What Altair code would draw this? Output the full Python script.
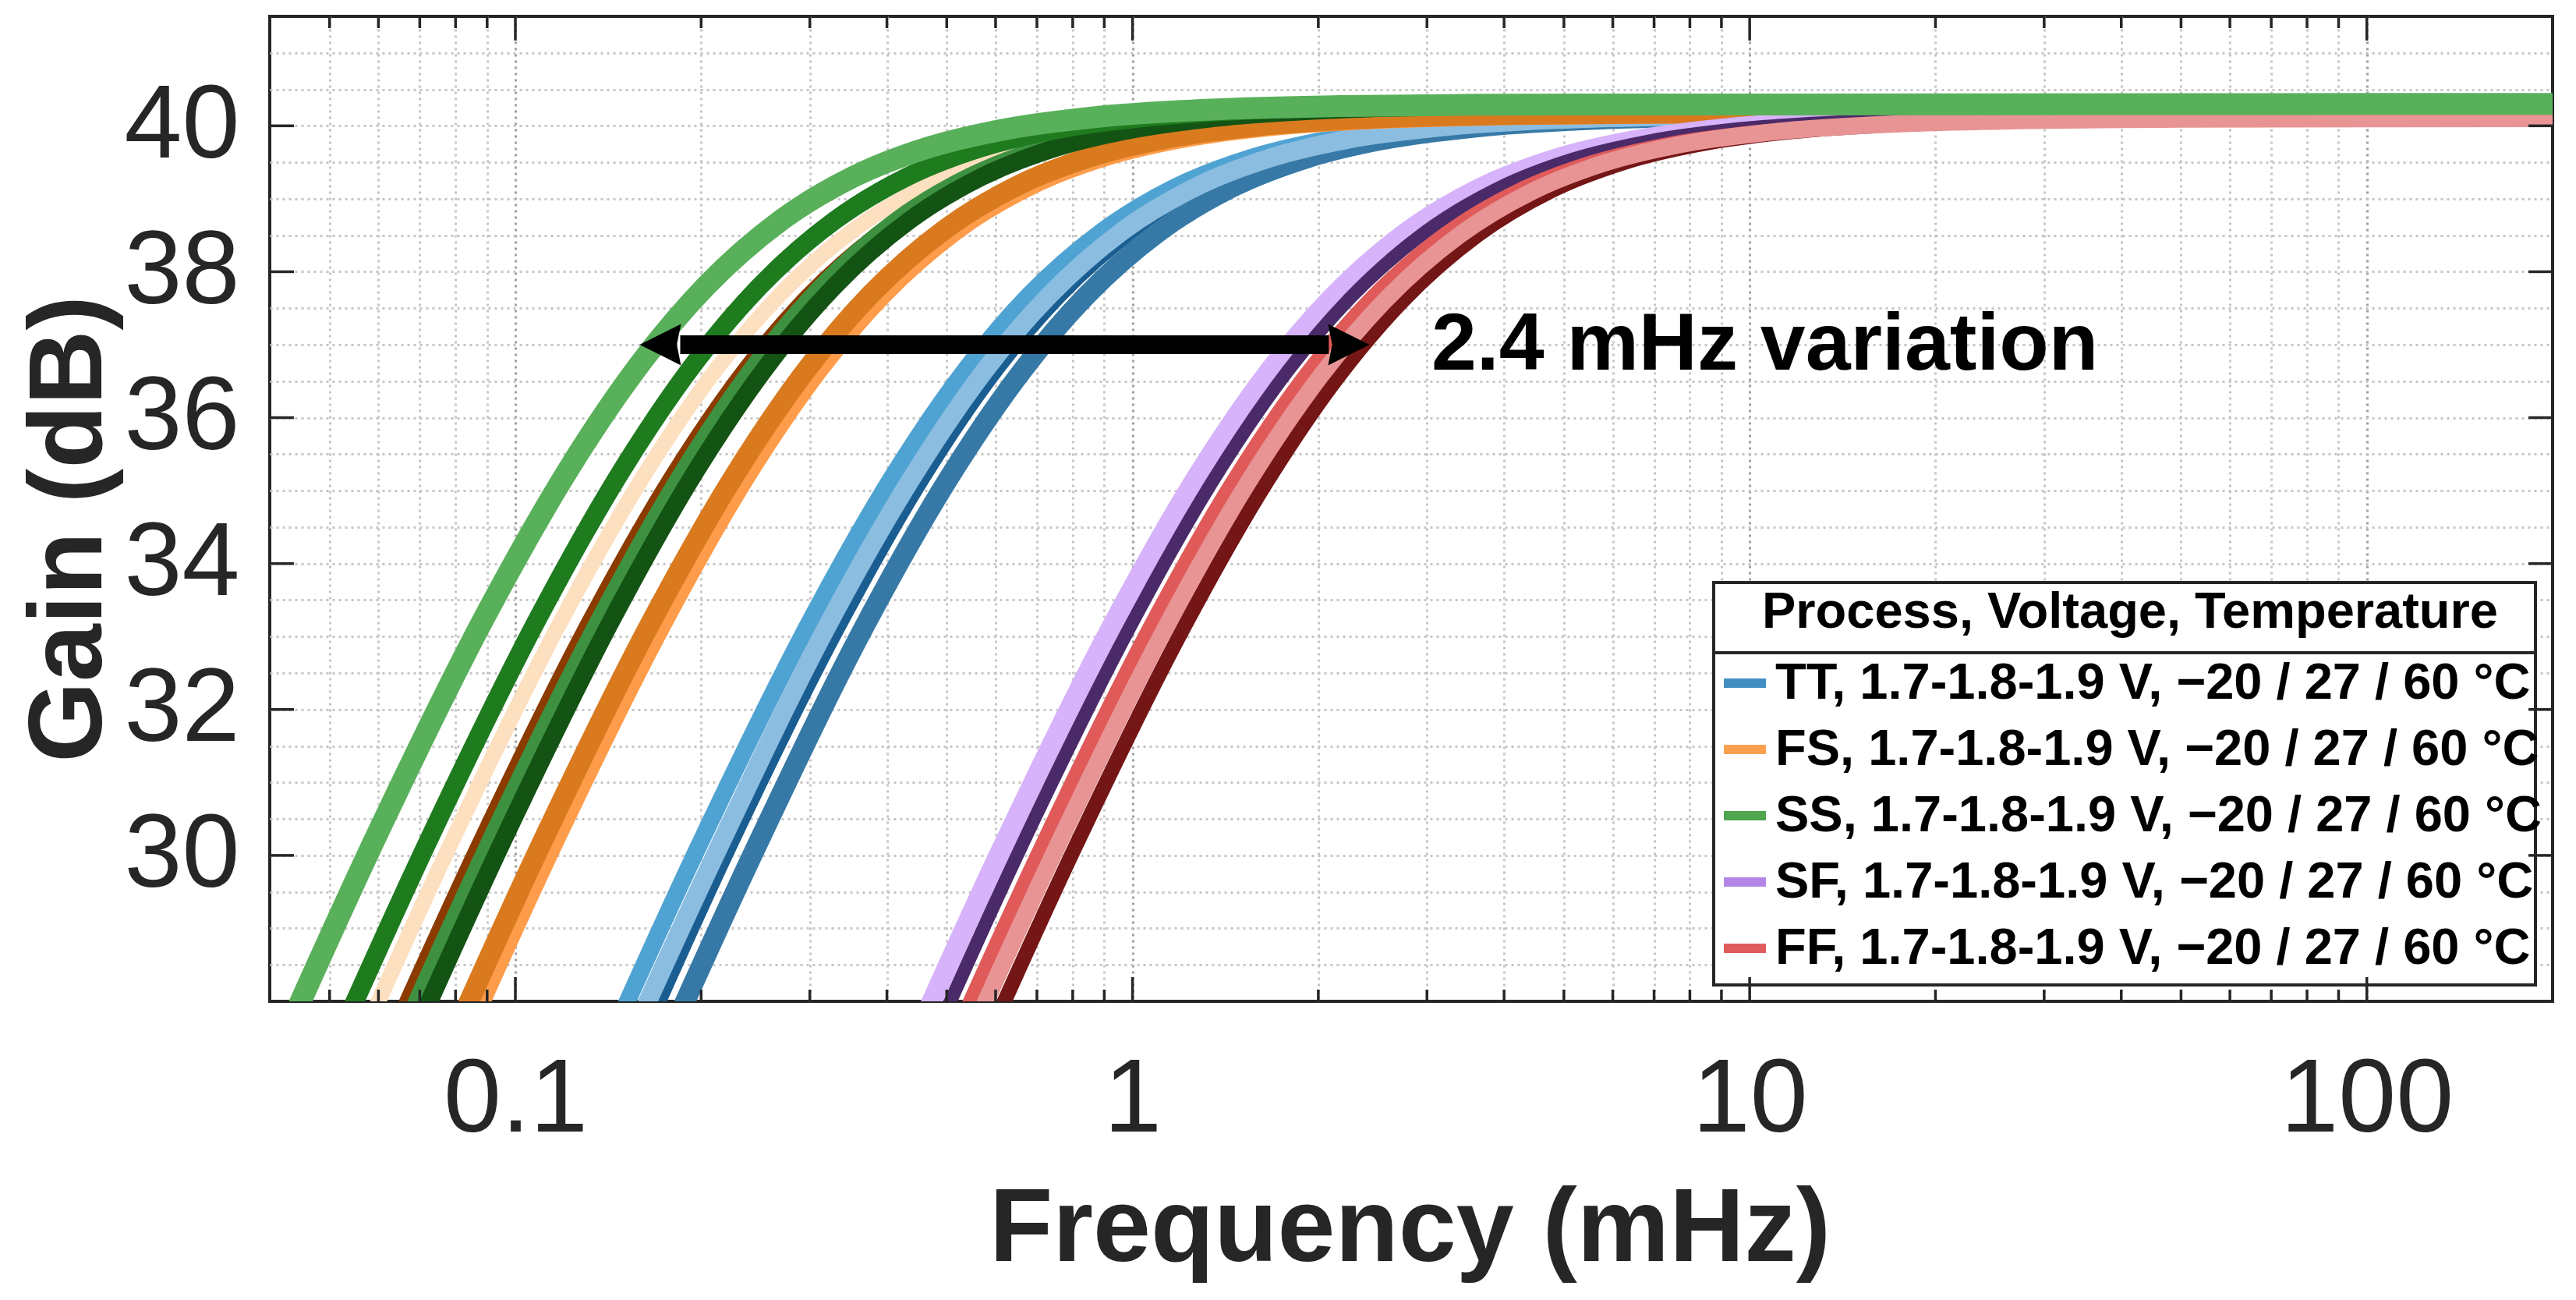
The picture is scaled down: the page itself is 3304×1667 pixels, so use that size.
import altair as alt
import pandas as pd

W, H = 2928, 1263
FONT = "Liberation Sans"
INK = "#262626"

corners = [
    "TT, 1.7-1.8-1.9 V, \u221220 / 27 / 60 \u00b0C",
    "FS, 1.7-1.8-1.9 V, \u221220 / 27 / 60 \u00b0C",
    "SS, 1.7-1.8-1.9 V, \u221220 / 27 / 60 \u00b0C",
    "SF, 1.7-1.8-1.9 V, \u221220 / 27 / 60 \u00b0C",
    "FF, 1.7-1.8-1.9 V, \u221220 / 27 / 60 \u00b0C",
]
corner_colors = ["#418fc3", "#fd9f4f", "#4fa64f", "#b486e8", "#e05b5b"]

# gain (dB)
gain_tt = [26.66, 30.16, 33.16, 35.16, 36.66, 37.66, 38.56, 39.16, 39.56, 39.81, 39.98, 40.08, 40.13, 40.15, 40.16]
gain_fs = [26.68, 30.18, 33.18, 35.18, 36.68, 37.68, 38.58, 39.18, 39.58, 39.83, 40.00, 40.10, 40.15, 40.17, 40.18]
gain_ss = [26.80, 30.30, 33.30, 35.30, 36.80, 37.80, 38.70, 39.30, 39.70, 39.95, 40.12, 40.22, 40.27, 40.29, 40.30]
gain_sf = [26.64, 30.14, 33.14, 35.14, 36.64, 37.64, 38.54, 39.14, 39.54, 39.79, 39.96, 40.06, 40.11, 40.13, 40.14]
gain_ff = [26.60, 30.10, 33.10, 35.10, 36.60, 37.60, 38.50, 39.10, 39.50, 39.75, 39.92, 40.02, 40.07, 40.09, 40.10]

# frequency (mHz) where each curve reaches those gains
freq_tt_a = [0.129, 0.199, 0.298, 0.406, 0.536, 0.676, 0.894, 1.172, 1.550, 2.06, 2.90, 4.38, 7.17, 12.4, 200]
freq_tt_b = [0.139, 0.215, 0.321, 0.438, 0.578, 0.730, 0.964, 1.265, 1.672, 2.22, 3.13, 4.72, 7.73, 13.4, 200]
freq_tt_c = [0.147, 0.226, 0.339, 0.462, 0.610, 0.770, 1.017, 1.334, 1.764, 2.34, 3.30, 4.98, 8.15, 14.1, 200]
freq_tt_d = [0.160, 0.247, 0.369, 0.503, 0.665, 0.839, 1.109, 1.454, 1.923, 2.55, 3.60, 5.43, 8.89, 15.4, 200]

freq_fs_a = [0.0511, 0.0788, 0.1180, 0.1608, 0.2124, 0.2680, 0.3542, 0.4646, 0.614, 0.816, 1.149, 1.734, 2.84, 4.92, 200]
freq_fs_b = [0.0562, 0.0867, 0.1298, 0.1768, 0.2336, 0.2947, 0.3896, 0.5110, 0.676, 0.898, 1.264, 1.907, 3.12, 5.42, 200]
freq_fs_c = [0.0748, 0.1153, 0.1728, 0.2353, 0.3109, 0.3922, 0.5184, 0.680, 0.899, 1.194, 1.682, 2.538, 4.16, 7.21, 200]
freq_fs_d = [0.0717, 0.1105, 0.1655, 0.2254, 0.2978, 0.3756, 0.4965, 0.651, 0.861, 1.144, 1.611, 2.431, 3.98, 6.90, 200]

freq_ss_a = [0.0388, 0.0598, 0.0896, 0.1221, 0.1613, 0.2035, 0.2689, 0.3528, 0.466, 0.620, 0.872, 1.317, 2.16, 3.74, 200]
freq_ss_b = [0.0475, 0.0732, 0.1096, 0.1493, 0.1972, 0.2488, 0.3289, 0.4314, 0.570, 0.758, 1.067, 1.610, 2.64, 4.57, 200]
freq_ss_c = [0.0599, 0.0923, 0.1383, 0.1884, 0.2489, 0.3140, 0.4150, 0.5444, 0.720, 0.956, 1.346, 2.031, 3.33, 5.77, 200]
freq_ss_d = [0.0627, 0.0967, 0.1448, 0.1972, 0.2606, 0.3287, 0.4345, 0.5699, 0.753, 1.001, 1.409, 2.127, 3.48, 6.04, 200]

freq_sf_a = [0.401, 0.618, 0.926, 1.261, 1.666, 2.102, 2.778, 3.644, 4.82, 6.40, 9.01, 13.6, 22.3, 38.6, 200]
freq_sf_b = [0.430, 0.662, 0.992, 1.351, 1.785, 2.252, 2.977, 3.905, 5.16, 6.86, 9.66, 14.6, 23.9, 41.4, 200]

freq_ff_a = [0.459, 0.708, 1.060, 1.444, 1.908, 2.406, 3.181, 4.172, 5.52, 7.33, 10.3, 15.6, 25.5, 44.2, 200]
freq_ff_b = [0.488, 0.753, 1.128, 1.536, 2.030, 2.561, 3.385, 4.439, 5.87, 7.80, 11.0, 16.6, 27.1, 47.1, 200]
freq_ff_c = [0.523, 0.806, 1.207, 1.645, 2.173, 2.741, 3.623, 4.752, 6.28, 8.35, 11.75, 17.7, 29.0, 50.4, 200]

# axis ticks / grid
x_major = [0.1, 1, 10, 100]
x_minor = [0.05, 0.06, 0.07, 0.08, 0.09, 0.2, 0.3, 0.4, 0.5, 0.6, 0.7, 0.8, 0.9,
           2, 3, 4, 5, 6, 7, 8, 9, 20, 30, 40, 50, 60, 70, 80, 90]
y_major = [30, 32, 34, 36, 38, 40]
y_grid = [28.5, 29, 29.5, 30, 30.5, 31, 31.5, 32, 32.5, 33, 33.5, 34, 34.5, 35, 35.5,
          36, 36.5, 37, 37.5, 38, 38.5, 39, 39.5, 40, 40.5, 41]

# annotation
arrow_tips = [0.159, 2.42]
arrow_shaft = [0.185, 2.08]
arrow_gain = 37
note_f, note_g = 3.05, 36.66
note_text = "2.4 mHz variation"

xs = alt.Scale(type="log", domain=[0.04, 200], nice=False)
ys = alt.Scale(domain=[28, 41.5], nice=False, zero=False)

is_decade = "indexof([0.1, 1, 10, 100], datum.value) >= 0"
x_axis = alt.Axis(
    values=sorted(x_minor + x_major), format="~g",
    labelExpr=is_decade + " ? datum.label : ''",
    ticks=False, tickSize=0, domain=False, labelOverlap=False, labelFlush=False,
    labelLimit=1000,
    grid=True, gridDash=[3, 5], gridWidth=3,
    gridColor=alt.condition(is_decade, alt.value("#a0a0a0"), alt.value("#c6c6c6")),
    labelFont=FONT, labelFontSize=133, labelColor=INK,
    labelPadding=166, labelBaseline="alphabetic",
    title="Frequency (mHz)", titleFont=FONT, titleFontSize=133, titleFontWeight="bold",
    titleColor=INK, titleX=1462, titleY=332, titleBaseline="alphabetic", titleAlign="center",
    titleLimit=3000,
)
y_axis = alt.Axis(
    values=y_grid, format="~g",
    labelExpr="datum.value % 2 == 0 && datum.value >= 30 ? datum.label : ''",
    ticks=False, tickSize=0, domain=False, labelOverlap=False, labelFlush=False,
    labelLimit=1000,
    grid=True, gridDash=[3, 5], gridWidth=3, gridColor="#c6c6c6",
    labelFont=FONT, labelFontSize=133, labelColor=INK, labelPadding=39,
    title="Gain (dB)", titleFont=FONT, titleFontSize=133, titleFontWeight="bold",
    titleColor=INK, titleX=-217, titleY=657, titleAngle=270,
    titleBaseline="alphabetic", titleAlign="center", titleLimit=3000,
)


def X():
    return alt.X("f:Q", scale=xs, axis=x_axis)


def Y():
    return alt.Y("g:Q", scale=ys, axis=y_axis)


def curve(freqs, gains, color, width):
    df = pd.DataFrame({"f": freqs, "g": gains})
    return alt.Chart(df).mark_line(
        color=color, strokeWidth=width, clip=True, interpolate="monotone",
        strokeCap="butt", strokeJoin="round",
    ).encode(x=X(), y=Y())


# draw order: TT, FS, SF, FF, then SS on top
curves = [
    curve(freq_tt_a, gain_tt, "#4fa3d2", 22),
    curve(freq_tt_c, gain_tt, "#1a5d91", 12),
    curve(freq_tt_d, gain_tt, "#3679a6", 26),
    curve(freq_tt_b, gain_tt, "#8bbde1", 24),
    curve(freq_fs_a, gain_fs, "#fde0c0", 20),
    curve(freq_fs_b, gain_fs, "#8c3b00", 13),
    curve(freq_fs_c, gain_fs, "#fd9c4a", 26),
    curve(freq_fs_d, gain_fs, "#d97a1f", 26),
    curve(freq_sf_a, gain_sf, "#d6b3fa", 26),
    curve(freq_sf_b, gain_sf, "#4a2a69", 17),
    curve(freq_ff_a, gain_ff, "#e05a5a", 17),
    curve(freq_ff_c, gain_ff, "#741516", 19),
    curve(freq_ff_b, gain_ff, "#e89494", 22),
    curve(freq_ss_c, gain_ss, "#3d9140", 23),
    curve(freq_ss_d, gain_ss, "#135313", 23),
    curve(freq_ss_b, gain_ss, "#1e7b1e", 24),
    curve(freq_ss_a, gain_ss, "#59b05a", 28),
]

# legend carrier: one point per series, so no visible line
legend_df = pd.DataFrame({
    "corner": corners,
    "f": [freq_tt_a[0], freq_fs_a[0], freq_ss_a[0], freq_sf_a[0], freq_ff_a[0]],
    "g": [gain_tt[0], gain_fs[0], gain_ss[0], gain_sf[0], gain_ff[0]],
})
base = alt.Chart(legend_df).mark_line(clip=True, strokeCap="butt").encode(
    x=X(), y=Y(),
    color=alt.Color("corner:N", scale=alt.Scale(domain=corners, range=corner_colors),
                    legend=alt.Legend(
                        title="Process, Voltage, Temperature", orient="none",
                        legendX=1852, legendY=726, direction="vertical", padding=7,
                        symbolType="stroke", symbolStrokeWidth=12, symbolSize=2916,
                        labelFont=FONT, labelFontSize=65, labelFontWeight="bold",
                        labelColor="black", labelLimit=3000, labelOffset=6,
                        titleFont=FONT, titleFontSize=65, titleFontWeight="bold",
                        titleColor="black", titleAnchor="middle", titleLimit=3000,
                        titlePadding=24, rowPadding=19,
                    )),
)

one = pd.DataFrame({"k": [0]})
legend_box = alt.Chart(one).mark_rect(fill="white", stroke=INK, strokeWidth=4).encode(
    x=alt.value(1852), x2=alt.value(2906), y=alt.value(726), y2=alt.value(1242)
)
legend_sep = alt.Chart(one).mark_rule(color=INK, strokeWidth=4).encode(
    x=alt.value(1852), x2=alt.value(2906), y=alt.value(816)
)

# double arrow + note
shaft = alt.Chart(pd.DataFrame({"f": [arrow_shaft[0]], "f2": [arrow_shaft[1]], "g": [arrow_gain]})).mark_rule(
    color="black", strokeWidth=24
).encode(x=X(), x2="f2:Q", y=Y())


def head(f, path):
    return alt.Chart(pd.DataFrame({"f": [f], "g": [arrow_gain]})).mark_point(
        shape=path, filled=True, size=11236, color="black", opacity=1, strokeWidth=0
    ).encode(x=X(), y=Y())


heads = [
    head(arrow_tips[0], "M0,0 L1,-0.5 L0.9,0 L1,0.5 Z"),
    head(arrow_tips[1], "M0,0 L-1,-0.5 L-0.9,0 L-1,0.5 Z"),
]
note = alt.Chart(pd.DataFrame({"f": [note_f], "g": [note_g], "t": [note_text]})).mark_text(
    align="left", baseline="alphabetic", font=FONT, fontSize=104, fontWeight="bold", color="black"
).encode(x=X(), y=Y(), text="t:N")


# inward ticks on all four sides
def xticks(vals, length):
    c = alt.Chart(pd.DataFrame({"f": vals})).mark_rule(color=INK, strokeWidth=3.5)
    return [c.encode(x=X(), y=alt.value(H), y2=alt.value(H - length)),
            c.encode(x=X(), y=alt.value(0), y2=alt.value(length))]


def yticks(vals, length):
    c = alt.Chart(pd.DataFrame({"g": vals})).mark_rule(color=INK, strokeWidth=3.5)
    return [c.encode(y=Y(), x=alt.value(0), x2=alt.value(length)),
            c.encode(y=Y(), x=alt.value(W), x2=alt.value(W - length))]


ticks = xticks(x_minor, 15) + xticks(x_major, 31) + yticks(y_major, 31)

chart = alt.layer(
    base, *curves, legend_box, legend_sep, shaft, *heads, note, *ticks
).properties(
    width=W, height=H,
    autosize=alt.AutoSizeParams(type="none"),
    padding={"left": 338, "top": 13, "right": 20, "bottom": 370},
).configure_view(
    stroke=INK, strokeWidth=4
).configure_legend(
    strokeWidth=0
)

chart.save("out.html", embed_options={"renderer": "svg", "actions": False})
